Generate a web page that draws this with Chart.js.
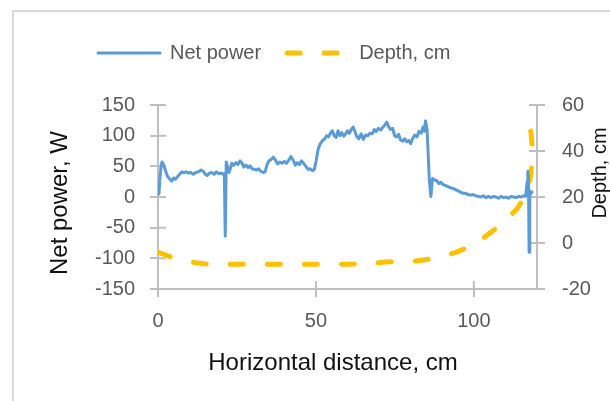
<!DOCTYPE html>
<html>
<head>
<meta charset="utf-8">
<script src="https://cdn.jsdelivr.net/npm/chart.js@4.4.0/dist/chart.umd.min.js"></script>
<style>
  html, body { margin: 0; padding: 0; background: #fff; overflow: hidden; }
  #frame { position: absolute; left: 12px; top: 10px; width: 700px; height: 500px; border: 2px solid #d9d9d9; }
  #chart { position: absolute; left: 0; top: 0; }
</style>
</head>
<body>
<div id="frame"></div>
<canvas id="chart" width="610" height="401"></canvas>
<script>
// Net power (W) against horizontal distance (cm)
const powerX = [
    0.3, 0.6, 1.0, 1.3, 1.8, 2.3, 3.0, 3.6, 4.3, 5.0, 5.5, 6.3, 7.0, 7.6, 8.3, 9.0, 9.7, 10.4,
    11.2, 12.0, 12.8, 13.6, 14.3, 15.0, 15.6, 16.3, 17.0, 17.8, 18.5, 19.2, 20.0, 20.6, 21.0,
    21.3, 21.6, 22.0, 22.5, 23.0, 23.4, 24.0, 24.7, 25.3, 26.0, 26.6, 27.2, 27.8, 28.5, 29.1,
    29.8, 30.5, 31.2, 31.8, 32.5, 33.3, 33.9, 34.5, 35.1, 35.8, 36.5, 37.2, 37.9, 38.6, 39.3,
    40.0, 40.7, 41.4, 42.1, 42.8, 43.5, 44.1, 44.8, 45.4, 46.1, 46.8, 47.5, 48.2, 48.9, 49.5,
    50.1, 50.7, 51.4, 52.1, 52.8, 53.4, 54.0, 54.6, 55.2, 55.8, 56.4, 57.0, 57.6, 58.2, 58.8,
    59.4, 60.0, 60.6, 61.2, 61.8, 62.4, 63.0, 63.6, 64.3, 65.0, 65.7, 66.4, 67.1, 67.8, 68.5,
    69.1, 69.8, 70.5, 71.2, 71.8, 72.4, 73.0, 73.6, 74.3, 74.9, 75.5, 76.2, 76.8, 77.5, 78.1,
    78.8, 79.4, 80.0, 80.6, 81.3, 82.0, 82.6, 83.3, 83.9, 84.3, 84.7, 85.2, 85.9, 86.4, 86.9,
    87.5, 88.2, 88.9, 89.6, 90.3, 91.0, 91.8, 92.6, 93.4, 94.2, 95.0, 95.8, 96.6, 97.4, 98.2,
    99.0, 99.8, 100.6, 101.4, 102.2, 103.0, 103.8, 104.6, 105.4, 106.2, 107.0, 107.8, 108.6,
    109.4, 110.2, 111.0, 111.8, 112.6, 113.4, 114.2, 115.0, 115.8, 116.4, 116.9, 117.1, 117.3,
    117.5, 117.7, 118.0, 118.4
];
const powerY = [
    5, 30, 52, 57, 52, 44, 34, 30, 26, 31, 29, 34, 38, 41, 40, 41, 39, 40,
    37, 40, 41, 44, 42, 37, 35, 39, 40, 37, 41, 38, 39, 37, 38,
    -64, 57, 50, 40, 48, 55, 52, 56, 53, 59, 55, 49, 52, 48, 51,
    46, 45, 44, 46, 42, 40, 41, 52, 59, 61, 65, 60, 54, 57, 55,
    58, 55, 60, 66, 60, 52, 56, 53, 59, 55, 50, 45, 46, 43, 45,
    60, 78, 87, 92, 95, 100, 98, 104, 108, 100, 97, 108, 100, 105, 99,
    103, 108, 104, 110, 114, 106, 98, 95, 103, 94, 101, 100, 104, 103, 110,
    107, 112, 109, 114, 117, 122, 115, 110, 112, 100, 98, 102, 93, 91, 95,
    90, 92, 87, 95, 101, 98, 107, 104, 114, 107, 124, 110, 28, 1, 30,
    28, 27, 22, 24, 20, 19, 17, 15, 14, 12, 10, 8, 6, 6, 4,
    3, 4, 2, 1, 0, 2, -1, 1, -1, 1, 0, -2, 1,
    -1, 0, -2, 1, 0, -1, 1, 0, 2, 1, 25, 42, 35,
    -90, 10, 5, 8
];

// Depth (cm) against horizontal distance (cm)
const depthX = [0, 2, 4, 6, 8, 10, 12, 15, 20, 30, 40, 50, 60, 65, 68, 72, 76, 80, 84, 88, 91, 94,
    97, 100, 103, 106, 109, 112, 114, 116, 117.3, 118.1, 118.5, 118.3, 117.9, 117.3];
const depthY = [-4, -5, -6, -6.8, -7.5, -8, -8.6, -9.1, -9.2, -9.2, -9.2, -9.2, -9.2, -9.1, -8.8, -8.3,
    -8.1, -8.0, -7.4, -6.4, -5.4, -4.2, -2.5, -0.5, 2.2, 5.3, 8.9, 12.5, 15.5, 20.5, 24.5, 31, 39.5,
    45, 50, 55];

const AXIS_COLOR = '#bfbfbf';
const TICK_COLOR = '#595959';
const FONT = "'Liberation Sans', Arial, sans-serif";
const TICK = 8;

Chart.defaults.font.family = FONT;

// axis titles drawn reading bottom-to-top on both sides, like the original
const titlePos = {
    x: { x: 333, y: 370, angle: 0, size: 24 },
    y: { x: 67, y: 203, angle: -Math.PI / 2, size: 24 },
    y1: { x: 606, y: 173, angle: -Math.PI / 2, size: 20 }
};

const axisTitles = {
    id: 'axisTitles',
    afterDraw(chart) {
        const ctx = chart.ctx;
        Object.keys(titlePos).forEach(id => {
            const p = titlePos[id];
            ctx.save();
            ctx.translate(p.x, p.y);
            ctx.rotate(p.angle);
            ctx.font = p.size + 'px ' + FONT;
            ctx.fillStyle = '#111';
            ctx.textAlign = 'center';
            ctx.textBaseline = 'alphabetic';
            ctx.fillText(chart.scales[id].options.title.text, 0, 0);
            ctx.restore();
        });
    }
};

// Excel style tick marks cross the axis: draw the inner half
const crossTicks = {
    id: 'crossTicks',
    beforeDatasetsDraw(chart) {
        const { ctx, chartArea, scales } = chart;
        ctx.save();
        ctx.strokeStyle = AXIS_COLOR;
        ctx.lineWidth = 2;
        ctx.beginPath();
        scales.x.ticks.forEach(t => {
            const px = scales.x.getPixelForValue(t.value);
            ctx.moveTo(px, chartArea.bottom);
            ctx.lineTo(px, chartArea.bottom - TICK);
        });
        scales.y.ticks.forEach(t => {
            const py = scales.y.getPixelForValue(t.value);
            ctx.moveTo(chartArea.left, py);
            ctx.lineTo(chartArea.left + TICK, py);
        });
        scales.y1.ticks.forEach(t => {
            const py = scales.y1.getPixelForValue(t.value);
            ctx.moveTo(chartArea.right, py);
            ctx.lineTo(chartArea.right - TICK, py);
        });
        ctx.stroke();
        ctx.restore();
    }
};

const legendHeight = {
    id: 'legendHeight',
    afterInit(chart) {
        const legend = chart.legend;
        const fit = legend.fit;
        legend.fit = function () {
            fit.call(this);
            this.height = 88;
        };
    }
};

function axisGrid() {
    return {
        drawOnChartArea: false,
        color: AXIS_COLOR,
        lineWidth: 2,
        tickLength: TICK
    };
}

const ctx = document.getElementById('chart').getContext('2d');
new Chart(ctx, {
    type: 'scatter',
    data: {
        datasets: [{
            label: 'Net power',
            data: powerX.map((x, i) => ({ x: x, y: powerY[i] })),
            yAxisID: 'y',
            showLine: true,
            borderColor: '#5b9bd5',
            backgroundColor: '#5b9bd5',
            borderWidth: 3,
            borderCapStyle: 'round',
            borderJoinStyle: 'round',
            pointRadius: 0,
            fill: false,
            tension: 0
        }, {
            label: 'Depth, cm',
            data: depthX.map((x, i) => ({ x: x, y: depthY[i] })),
            yAxisID: 'y1',
            showLine: true,
            borderColor: '#ffc000',
            backgroundColor: '#ffc000',
            borderWidth: 5,
            borderDash: [13, 24],
            borderCapStyle: 'round',
            borderJoinStyle: 'round',
            pointRadius: 0,
            fill: false,
            tension: 0.3
        }]
    },
    options: {
        responsive: false,
        animation: false,
        events: [],
        layout: {
            padding: { left: 72, right: 0, top: 17, bottom: 0 }
        },
        scales: {
            x: {
                type: 'linear',
                min: 0,
                max: 120,
                afterFit: s => { s.height = 112; },
                ticks: {
                    stepSize: 50,
                    includeBounds: false,
                    padding: 12,
                    color: TICK_COLOR,
                    font: { size: 20 }
                },
                grid: axisGrid(),
                border: { color: AXIS_COLOR, width: 2 },
                title: { display: false, text: 'Horizontal distance, cm' }
            },
            y: {
                position: 'left',
                min: -150,
                max: 150,
                afterFit: s => { s.width = 86; },
                ticks: {
                    stepSize: 50,
                    padding: 15,
                    color: TICK_COLOR,
                    font: { size: 20 }
                },
                grid: axisGrid(),
                border: { color: AXIS_COLOR, width: 2 },
                title: { display: false, text: 'Net power, W' }
            },
            y1: {
                position: 'right',
                min: -20,
                max: 60,
                afterFit: s => { s.width = 73; },
                ticks: {
                    stepSize: 20,
                    padding: 17,
                    color: TICK_COLOR,
                    font: { size: 20 }
                },
                grid: axisGrid(),
                border: { color: AXIS_COLOR, width: 2 },
                title: { display: false, text: 'Depth, cm' }
            }
        },
        plugins: {
            legend: {
                display: true,
                position: 'top',
                align: 'start',
                labels: {
                    // zero-height box so the legend symbol is a (dashed) line
                    boxWidth: 62,
                    boxHeight: 0,
                    padding: 26,
                    color: TICK_COLOR,
                    font: { size: 20 }
                }
            },
            tooltip: { enabled: false }
        }
    },
    plugins: [axisTitles, crossTicks, legendHeight]
});
</script>
</body>
</html>
